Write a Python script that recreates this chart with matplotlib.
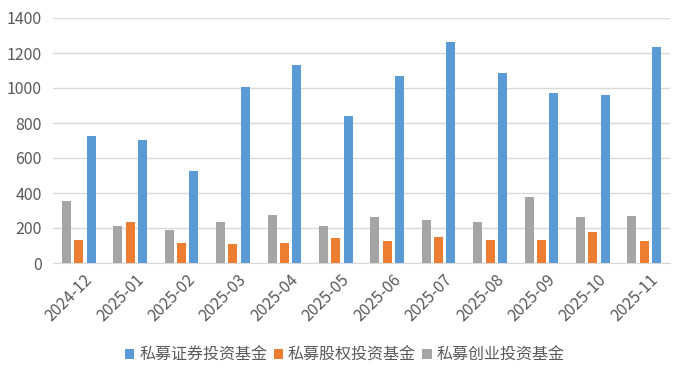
import numpy as np
import matplotlib
matplotlib.use("Agg")
import matplotlib.pyplot as plt

plt.rcParams['font.family'] = ['Noto Sans CJK SC', 'DejaVu Sans']

months = ["2024-12", "2025-01", "2025-02", "2025-03", "2025-04", "2025-05",
          "2025-06", "2025-07", "2025-08", "2025-09", "2025-10", "2025-11"]
securities = [728, 705, 528, 1008, 1133, 842, 1070, 1265, 1088, 973, 962, 1236]
equity = [130, 232, 116, 110, 116, 145, 128, 150, 133, 133, 179, 128]
venture = [356, 213, 187, 236, 276, 213, 265, 248, 236, 379, 265, 270]

names = ["私募证券投资基金", "私募股权投资基金", "私募创业投资基金"]
colors = ["#5b9bd5", "#ed7d31", "#a5a5a5"]
txt = "#595959"

fig = plt.figure(figsize=(6.89, 3.79), dpi=100)
ax = fig.add_axes([53 / 689, 1 - 263 / 379, 617 / 689, 245 / 379])

x = np.arange(len(months))
w = 0.175
step = 0.24
ax.bar(x + step, securities, w, color=colors[0], label=names[0], zorder=3)
ax.bar(x, equity, w, color=colors[1], label=names[1], zorder=3)
ax.bar(x - step, venture, w, color=colors[2], label=names[2], zorder=3)

ax.set_xlim(-0.5, len(months) - 0.5)
ax.set_ylim(0, 1400)
ax.set_yticks(range(0, 1401, 200))
ax.grid(axis="y", color="#d9d9d9", lw=1, zorder=0)
for s in ["top", "right", "left"]:
    ax.spines[s].set_visible(False)
ax.spines["bottom"].set_color("#d9d9d9")
ax.tick_params(axis="both", length=0, colors=txt, labelsize=11.5)
ax.tick_params(axis="y", pad=8)
ax.set_xticks(x + 0.1)
ax.set_xticklabels(months, rotation=45, ha="right", rotation_mode="anchor")
ax.tick_params(axis="x", pad=6)

ax.legend(loc="lower center", bbox_to_anchor=(0.473, -0.47), ncol=3, frameon=False,
          handlelength=0.6, handleheight=0.6, handletextpad=0.3, columnspacing=0.4,
          fontsize=11.5, labelcolor=txt)

fig.savefig("out.png", dpi=100)
